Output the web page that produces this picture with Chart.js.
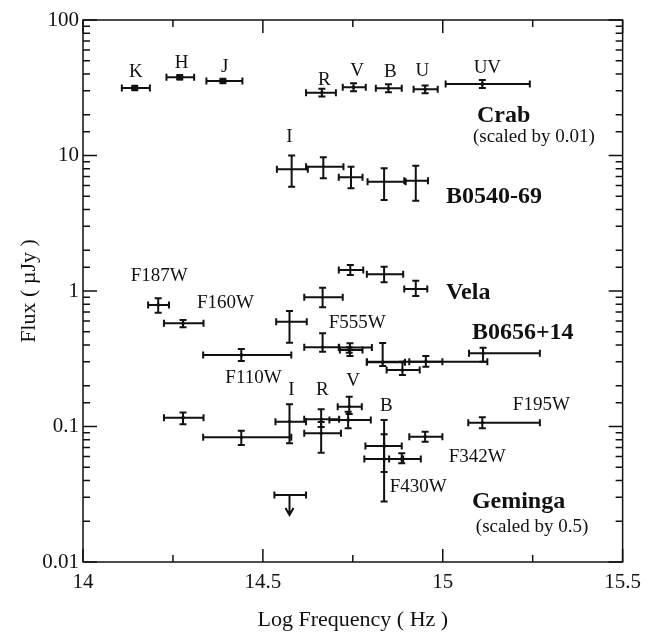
<!DOCTYPE html>
<html>
<head>
<meta charset="utf-8">
<script src="https://cdn.jsdelivr.net/npm/chart.js@4.4.0/dist/chart.umd.min.js"></script>
<style>
  html, body { margin: 0; padding: 0; background: #fff; }
</style>
</head>
<body>
<canvas id="sed" width="649" height="636"></canvas>
<script>
// tick labels
const xTickLabels = [14, 14.5, 15, 15.5];
const yTickLabels = [0.01, 0.1, 1, 10, 100];

// rows: [logNu, logNuLo, logNuHi, flux, fluxLo, fluxHi]
const crabIR = [
  [14.144, 14.108, 14.186, 31.5, 30.5, 32.5],
  [14.269, 14.232, 14.309, 37.8, 36.6, 39.0],
  [14.389, 14.343, 14.443, 35.5, 34.4, 36.6]
];
const crabOptical = [
  [14.664, 14.620, 14.703, 29.1, 27.2, 31.1],
  [14.752, 14.722, 14.786, 31.9, 29.8, 34.1],
  [14.849, 14.814, 14.886, 31.3, 29.3, 33.5],
  [14.951, 14.919, 14.986, 30.8, 28.8, 32.9],
  [15.110, 15.008, 15.242, 33.7, 31.5, 36.0]
];
const b0540 = [
  [14.580, 14.539, 14.625, 7.9, 5.89, 10.0],
  [14.668, 14.620, 14.724, 8.27, 6.79, 9.7],
  [14.745, 14.711, 14.777, 6.9, 5.73, 8.27],
  [14.837, 14.791, 14.897, 6.4, 4.70, 8.05],
  [14.925, 14.893, 14.959, 6.5, 4.64, 8.41]
];
const vela = [
  [14.574, 14.537, 14.622, 0.593, 0.415, 0.712],
  [14.666, 14.615, 14.722, 0.898, 0.758, 1.057],
  [14.743, 14.711, 14.779, 1.43, 1.313, 1.556],
  [14.837, 14.789, 14.890, 1.33, 1.16, 1.51],
  [14.925, 14.893, 14.957, 1.035, 0.918, 1.19]
];
const b0656 = [
  [14.209, 14.181, 14.239, 0.789, 0.692, 0.883],
  [14.278, 14.225, 14.335, 0.578, 0.540, 0.611],
  [14.440, 14.334, 14.579, 0.337, 0.304, 0.373],
  [14.666, 14.615, 14.712, 0.385, 0.356, 0.488],
  [14.742, 14.711, 14.803, 0.383, 0.331, 0.411],
  [14.740, 14.714, 14.777, 0.367, 0.350, 0.385],
  [14.833, 14.789, 14.895, 0.298, 0.279, 0.413],
  [14.888, 14.844, 14.936, 0.261, 0.240, 0.301],
  [14.953, 14.907, 14.999, 0.301, 0.276, 0.331],
  [14.893, 14.789, 15.124, 0.300, 0.300, 0.300],
  [15.112, 15.073, 15.270, 0.347, 0.301, 0.382]
];
const geminga = [
  [14.278, 14.225, 14.335, 0.116, 0.104, 0.127],
  [14.440, 14.334, 14.579, 0.0832, 0.0730, 0.0931],
  [14.574, 14.535, 14.620, 0.1085, 0.0752, 0.146],
  [14.662, 14.615, 14.712, 0.113, 0.0991, 0.134],
  [14.662, 14.615, 14.717, 0.0891, 0.0641, 0.108],
  [14.740, 14.708, 14.775, 0.140, 0.1237, 0.166],
  [14.737, 14.685, 14.800, 0.1117, 0.0970, 0.1286],
  [14.837, 14.785, 14.886, 0.0718, 0.0461, 0.1117],
  [14.837, 14.782, 14.890, 0.0575, 0.0279, 0.0875],
  [14.886, 14.851, 14.939, 0.0575, 0.0535, 0.0634],
  [14.951, 14.907, 14.999, 0.0841, 0.0773, 0.0916],
  [15.110, 15.071, 15.270, 0.1067, 0.097, 0.117]
];
// upper limit: [logNu, logNuLo, logNuHi, flux, arrowTip]
const gemingaLimit = [[14.574, 14.532, 14.620, 0.0312, 0.0222]];

// text labels: [text, logNu, flux, kind]
const notes = [
  ['K', 14.147, 41.6, 'band'], ['H', 14.274, 47.9, 'band'], ['J', 14.394, 45.2, 'band'],
  ['R', 14.671, 36.1, 'band'], ['V', 14.762, 42.0, 'band'], ['B', 14.854, 41.6, 'band'],
  ['U', 14.943, 42.0, 'band'], ['UV', 15.124, 44.5, 'band'], ['I', 14.574, 13.7, 'band'],
  ['Crab', 15.095, 19.6, 'name'], ['(scaled by 0.01)', 15.084, 13.7, 'note'],
  ['B0540-69', 15.009, 4.94, 'name'], ['Vela', 15.009, 0.966, 'name'],
  ['B0656+14', 15.081, 0.490, 'name'],
  ['F187W', 14.212, 1.29, 'band'], ['F160W', 14.396, 0.815, 'band'],
  ['F555W', 14.762, 0.581, 'band'], ['F110W', 14.474, 0.228, 'band'],
  ['I', 14.579, 0.186, 'band'], ['R', 14.665, 0.186, 'band'], ['V', 14.751, 0.2167, 'band'],
  ['B', 14.843, 0.1417, 'band'], ['F195W', 15.274, 0.144, 'band'],
  ['F342W', 15.096, 0.0596, 'band'], ['F430W', 14.932, 0.0358, 'band'],
  ['Geminga', 15.081, 0.0277, 'name'], ['(scaled by 0.5)', 15.092, 0.01813, 'note']
];

const INK = '#111';
const SERIF = '"Liberation Serif", "Times New Roman", serif';

function toPoints(rows) {
  return rows.map(r => ({ x: r[0], y: r[3] }));
}

function isLabelled(list, v) {
  return list.some(t => Math.abs(t - v) < 1e-9 * Math.max(1, Math.abs(t)));
}

const errorBars = {
  id: 'errorBars',
  beforeDatasetsDraw(chart) {
    const { ctx, scales: { x, y } } = chart;
    const cap = 3.5;
    ctx.save();
    ctx.strokeStyle = INK;
    ctx.lineWidth = 2;
    chart.data.datasets.forEach(ds => {
      (ds.rows || []).forEach(r => {
        const px = x.getPixelForValue(r[0]);
        const x1 = x.getPixelForValue(r[1]);
        const x2 = x.getPixelForValue(r[2]);
        const py = y.getPixelForValue(r[3]);
        const y1 = y.getPixelForValue(r[4]);
        const y2 = y.getPixelForValue(r[5]);
        ctx.beginPath();
        ctx.moveTo(x1, py); ctx.lineTo(x2, py);
        ctx.moveTo(x1, py - cap); ctx.lineTo(x1, py + cap);
        ctx.moveTo(x2, py - cap); ctx.lineTo(x2, py + cap);
        if (Math.abs(y1 - y2) > 1) {
          ctx.moveTo(px, y1); ctx.lineTo(px, y2);
          ctx.moveTo(px - cap, y1); ctx.lineTo(px + cap, y1);
          ctx.moveTo(px - cap, y2); ctx.lineTo(px + cap, y2);
        }
        ctx.stroke();
      });
    });
    // upper limit with arrow
    gemingaLimit.forEach(r => {
      const px = x.getPixelForValue(r[0]);
      const x1 = x.getPixelForValue(r[1]);
      const x2 = x.getPixelForValue(r[2]);
      const py = y.getPixelForValue(r[3]);
      const tip = y.getPixelForValue(r[4]);
      ctx.beginPath();
      ctx.moveTo(x1, py); ctx.lineTo(x2, py);
      ctx.moveTo(x1, py - cap); ctx.lineTo(x1, py + cap);
      ctx.moveTo(x2, py - cap); ctx.lineTo(x2, py + cap);
      ctx.moveTo(px, py); ctx.lineTo(px, tip);
      ctx.moveTo(px - 4, tip - 7); ctx.lineTo(px, tip); ctx.lineTo(px + 4, tip - 7);
      ctx.stroke();
    });
    ctx.restore();
  }
};

const frameAndText = {
  id: 'frameAndText',
  afterDraw(chart) {
    const { ctx, chartArea: a, scales: { x, y } } = chart;
    ctx.save();
    ctx.strokeStyle = INK;
    ctx.lineWidth = 1.5;
    ctx.strokeRect(a.left, a.top, a.right - a.left, a.bottom - a.top);
    ctx.beginPath();
    x.ticks.forEach(t => {
      const px = x.getPixelForValue(t.value);
      const len = isLabelled(xTickLabels, t.value) ? 13 : 7;
      ctx.moveTo(px, a.bottom); ctx.lineTo(px, a.bottom - len);
      ctx.moveTo(px, a.top); ctx.lineTo(px, a.top + len);
    });
    y.ticks.forEach(t => {
      const py = y.getPixelForValue(t.value);
      const len = isLabelled(yTickLabels, t.value) ? 14 : 7;
      ctx.moveTo(a.left, py); ctx.lineTo(a.left + len, py);
      ctx.moveTo(a.right, py); ctx.lineTo(a.right - len, py);
    });
    ctx.stroke();

    ctx.fillStyle = INK;
    ctx.textBaseline = 'middle';
    notes.forEach(([text, lx, ly, kind]) => {
      const px = x.getPixelForValue(lx);
      const py = y.getPixelForValue(ly);
      if (kind === 'name') {
        ctx.font = 'bold 24px ' + SERIF;
        ctx.textAlign = 'left';
      } else if (kind === 'note') {
        ctx.font = '19px ' + SERIF;
        ctx.textAlign = 'left';
      } else {
        ctx.font = '19px ' + SERIF;
        ctx.textAlign = 'center';
      }
      ctx.fillText(text, px, py);
    });
    ctx.restore();
  }
};

function pointSet(rows, size) {
  return {
    data: toPoints(rows),
    rows: rows,
    pointStyle: 'rect',
    pointRadius: size,
    pointBackgroundColor: INK,
    pointBorderColor: INK,
    pointBorderWidth: 0,
    showLine: false
  };
}

new Chart(document.getElementById('sed'), {
  type: 'scatter',
  data: {
    datasets: [
      pointSet(crabIR, 4.5),
      pointSet(crabOptical, 2),
      pointSet(b0540, 1.5),
      pointSet(vela, 1.5),
      pointSet(b0656, 2),
      pointSet(geminga, 2)
    ]
  },
  options: {
    responsive: false,
    animation: false,
    devicePixelRatio: 1,
    layout: { padding: { top: 20, right: 25, left: 0, bottom: 0 } },
    plugins: { legend: { display: false }, tooltip: { enabled: false } },
    scales: {
      x: {
        type: 'linear',
        min: 14,
        max: 15.5,
        afterFit(scale) { scale.height = 74; },
        grid: { display: false, drawTicks: false },
        border: { display: false },
        ticks: {
          stepSize: 0.25,
          autoSkip: false,
          maxRotation: 0,
          padding: 8,
          color: INK,
          font: { family: SERIF, size: 21 },
          callback: v => isLabelled(xTickLabels, v) ? String(v) : ''
        },
        title: {
          display: true,
          text: 'Log Frequency ( Hz )',
          color: INK,
          font: { family: SERIF, size: 22 },
          padding: { top: 0, bottom: 3 }
        }
      },
      y: {
        type: 'logarithmic',
        min: 0.01,
        max: 100,
        afterFit(scale) { scale.width = 83; },
        grid: { display: false, drawTicks: false },
        border: { display: false },
        ticks: {
          autoSkip: false,
          padding: 4,
          color: INK,
          font: { family: SERIF, size: 21 },
          callback: v => isLabelled(yTickLabels, v) ? String(v) : ''
        },
        title: {
          display: true,
          text: 'Flux ( µJy )',
          color: INK,
          font: { family: SERIF, size: 22 },
          padding: { top: 16, bottom: 0 }
        }
      }
    }
  },
  plugins: [errorBars, frameAndText]
});
</script>
</body>
</html>
